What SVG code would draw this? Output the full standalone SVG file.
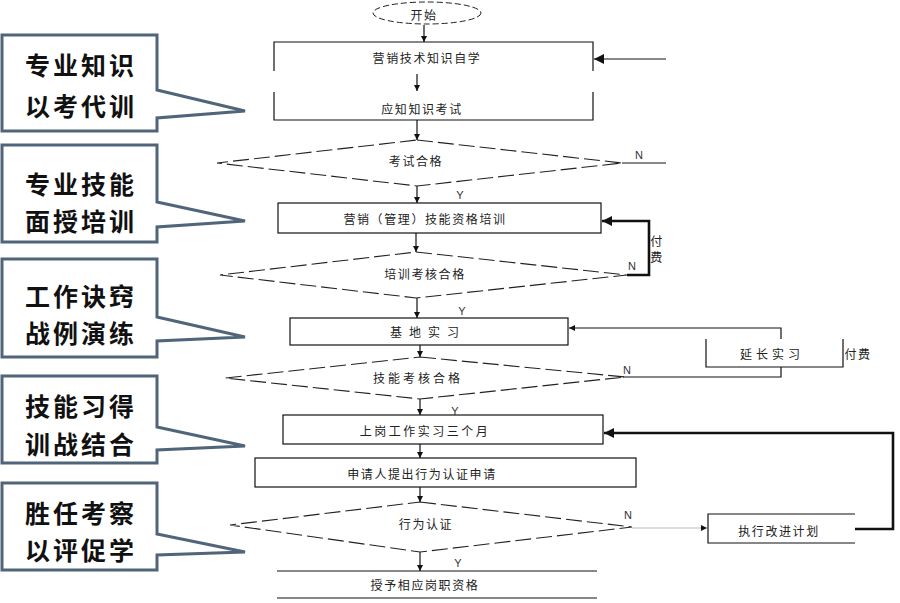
<svg xmlns="http://www.w3.org/2000/svg" width="900" height="603" viewBox="0 0 900 603">
<defs>
<style>
.cb{fill:#fff;stroke:#50657a;stroke-width:3;stroke-linejoin:miter}
.ct{font-family:"Noto Sans CJK SC","Noto Sans",sans-serif;font-weight:bold;font-size:25px;letter-spacing:3px;fill:#111;text-anchor:middle;dominant-baseline:central}
.ft{font-family:"Noto Sans CJK SC","Noto Sans",sans-serif;font-size:12px;letter-spacing:1.6px;fill:#222;text-anchor:middle;dominant-baseline:central}
.lb{font-family:"Liberation Sans",Arial,sans-serif;font-size:11px;fill:#333;text-anchor:middle;dominant-baseline:central}
.bx{fill:#fff;stroke:#111;stroke-width:1.2}
.ln{fill:none;stroke:#111;stroke-width:1.2}
.dm{fill:#fff;stroke:#222;stroke-width:1.1;stroke-dasharray:16 5}
.th{fill:none;stroke:#111;stroke-width:2.6}
.c{fill:none;stroke:#111;stroke-width:1.2}
</style>
<marker id="a" viewBox="0 0 10 10" markerUnits="userSpaceOnUse" markerWidth="6" markerHeight="7" refX="10" refY="5" orient="auto"><path d="M0,0L10,5L0,10Z" fill="#111"/></marker>
<marker id="b" viewBox="0 0 10 10" markerUnits="userSpaceOnUse" markerWidth="11" markerHeight="10" refX="10" refY="5" orient="auto"><path d="M0,0L10,5L0,10Z" fill="#111"/></marker>
</defs>
<rect width="900" height="603" fill="#fff"/>

<g id="callout1"><path class="cb" d="M2,35H157V90L245,111L157,118V131H2Z"/><text class="ct" x="81" y="64">专业知识</text><text class="ct" x="81" y="105">以考代训</text></g>
<g id="callout2"><path class="cb" d="M2,145H157V202L245,221L157,227V242H2Z"/><text class="ct" x="81" y="183">专业技能</text><text class="ct" x="81" y="220">面授培训</text></g>
<g id="callout3"><path class="cb" d="M2,259H157V317L245,337L157,341V357H2Z"/><text class="ct" x="81" y="295">工作诀窍</text><text class="ct" x="81" y="332">战例演练</text></g>
<g id="callout4"><path class="cb" d="M2,376H157V427L245,446L157,450V463H2Z"/><text class="ct" x="81" y="405">技能习得</text><text class="ct" x="81" y="443">训战结合</text></g>
<g id="callout5"><path class="cb" d="M2,483H157V534L245,552L157,555V570H2Z"/><text class="ct" x="81" y="512">胜任考察</text><text class="ct" x="81" y="549">以评促学</text></g>

<g id="connectors">
<line class="c" x1="424" y1="25" x2="424" y2="42" marker-end="url(#a)"/>
<line class="c" x1="666" y1="59" x2="594" y2="59" marker-end="url(#b)"/>
<line class="c" x1="417" y1="74" x2="417" y2="91" marker-end="url(#a)"/>
<line class="c" x1="417" y1="120" x2="417" y2="140" marker-end="url(#a)"/>
<line class="c" x1="622" y1="163" x2="666" y2="163"/>
<line class="c" x1="417" y1="186" x2="417" y2="203" marker-end="url(#a)"/>
<line class="c" x1="416" y1="233" x2="416" y2="252" marker-end="url(#a)"/>
<path class="th" d="M627,275H649V221H602" marker-end="url(#b)"/>
<line class="c" x1="417" y1="298" x2="417" y2="318" marker-end="url(#a)"/>
<line class="c" x1="420" y1="345" x2="420" y2="357" marker-end="url(#a)"/>
<path class="c" d="M623,377H781V367"/>
<path class="c" d="M781,339V328H569" marker-end="url(#a)"/>
<line class="c" x1="420" y1="399" x2="420" y2="415" marker-end="url(#a)"/>
<path class="th" d="M855,529H893V433H604" marker-end="url(#b)"/>
<line class="c" x1="420" y1="444" x2="420" y2="458" marker-end="url(#a)"/>
<line class="c" x1="420" y1="487" x2="420" y2="502" marker-end="url(#a)"/>
<line x1="632" y1="528" x2="707" y2="528" stroke="#bbb" stroke-width="1" marker-end="url(#a)"/>
<line class="c" x1="420" y1="552" x2="420" y2="571" marker-end="url(#a)"/>
<text class="lb" x="639" y="155">N</text>
<text class="lb" x="460" y="195">Y</text>
<text class="lb" x="632" y="266">N</text>
<text class="ft" x="657" y="240">付</text>
<text class="ft" x="657" y="256">费</text>
<text class="lb" x="462" y="311">Y</text>
<text class="lb" x="627" y="370">N</text>
<text class="ft" x="858" y="353">付费</text>
<text class="lb" x="455" y="411">Y</text>
<text class="lb" x="628" y="515">N</text>
<text class="lb" x="458" y="563">Y</text>
</g>

<g id="start"><ellipse cx="427" cy="13" rx="54" ry="11" fill="#fff" stroke="#222" stroke-width="1" stroke-dasharray="6 3"/><text class="ft" x="424" y="14">开始</text></g>
<g id="n1"><path class="ln" d="M274,71V42H593V71"/><text class="ft" x="427" y="57">营销技术知识自学</text></g>
<g id="n2"><path class="ln" d="M274,92V120H593V92"/><text class="ft" x="422" y="108">应知知识考试</text></g>
<g id="d1"><path class="dm" d="M417,140L622,163L417,186L217,163Z"/><text class="ft" x="416" y="160">考试合格</text></g>
<g id="n3"><rect class="bx" x="278" y="203" width="323" height="30"/><text class="ft" x="425" y="218">营销（管理）技能资格培训</text></g>
<g id="d2"><path class="dm" d="M416,252L627,275L416,298L220,275Z"/><text class="ft" x="425" y="273">培训考核合格</text></g>
<g id="n4"><rect class="bx" x="290" y="318" width="278" height="27"/><text class="ft" x="428" y="331" style="letter-spacing:7px">基地实习</text></g>
<g id="n4b"><path class="ln" d="M706,339V367H843V339"/><text class="ft" x="772" y="353" style="letter-spacing:4px">延长实习</text></g>
<g id="d3"><path class="dm" d="M420,357L625,377L420,399L225,378Z"/><text class="ft" x="418" y="377" style="letter-spacing:3px">技能考核合格</text></g>
<g id="n5"><rect class="bx" x="283" y="415" width="320" height="29"/><text class="ft" x="425" y="430" style="letter-spacing:2.5px">上岗工作实习三个月</text></g>
<g id="n6"><rect class="bx" x="255" y="458" width="381" height="29"/><text class="ft" x="422" y="473">申请人提出行为认证申请</text></g>
<g id="d4"><path class="dm" d="M420,502L632,527L420,552L230,525Z"/><text class="ft" x="426" y="523">行为认证</text></g>
<g id="n6b"><path class="ln" d="M855,514H708V543H855"/><text class="ft" x="779" y="530">执行改进计划</text></g>
<g id="n7"><path class="ln" d="M277,571H597M277,598H597"/><text class="ft" x="425" y="584">授予相应岗职资格</text></g>
</svg>
